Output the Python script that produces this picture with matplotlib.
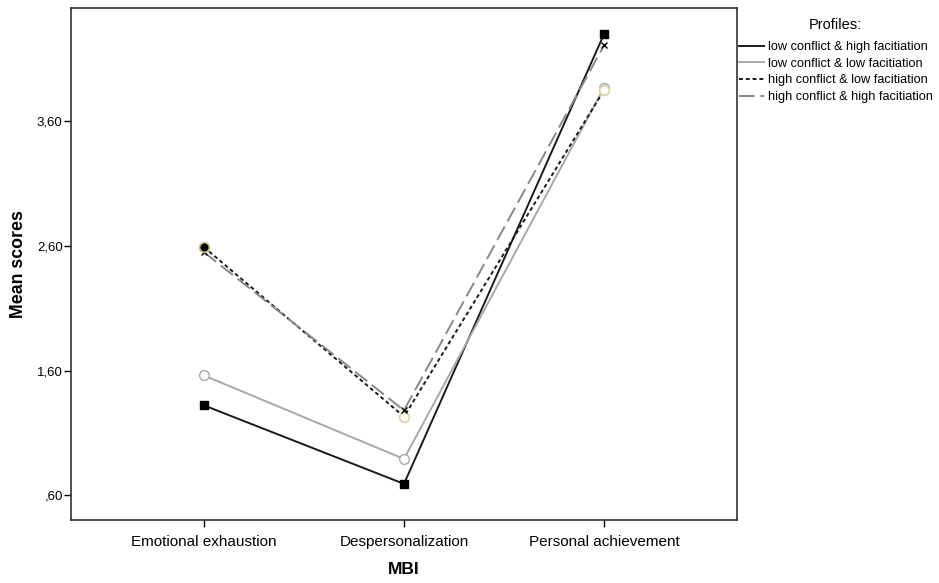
import matplotlib
matplotlib.use("Agg")
import matplotlib.pyplot as plt
from matplotlib.ticker import FuncFormatter

plt.rcParams['font.family'] = ['Liberation Sans', 'DejaVu Sans']

categories = ["Emotional exhaustion", "Despersonalization", "Personal achievement"]
series_names = ["low conflict & high facitiation", "low conflict & low facitiation",
                "high conflict & low facitiation", "high conflict & high facitiation"]
low_high = [1.32, 0.69, 4.30]
low_low = [1.56, 0.89, 3.87]
high_low = [2.59, 1.23, 3.85]
high_high = [2.55, 1.28, 4.21]
y_ticks = [0.60, 1.60, 2.60, 3.60]

fig = plt.figure(figsize=(9.39, 5.83), dpi=100)
ax = fig.add_axes([71/939, 1-520/583, (737-71)/939, (520-8)/583])

x = list(range(len(categories)))
l1, = ax.plot(x, low_high, color='#1a1a1a', lw=1.4, marker='s', ms=5.5,
              mfc='black', mec='black', label=series_names[0])
l2, = ax.plot(x, low_low, color='#a8a8a8', lw=1.4, marker='o', ms=7,
              mfc='white', mec='#a8a8a8', label=series_names[1])
l3, = ax.plot(x, high_low, color='#1a1a1a', lw=1.4, ls=(0, (2, 1.5)), marker='o', ms=7,
              mfc='white', mec='#d8d4a8', mew=1.2, label=series_names[2])
l4, = ax.plot(x, high_high, color='#888888', lw=1.4, ls=(0, (8, 3)), marker='x', ms=4,
              mec='black', mew=1.0, label=series_names[3])
# filled marker at first point of high conflict & low facilitation
ax.plot(x[0], high_low[0], marker='o', ms=7, mfc='black', mec='#c8c08a', mew=1.2, ls='none')

ax.set_xlim(-0.665, 2.665)
ax.set_ylim(0.40, 4.51)
ax.set_xticks(x)
ax.set_xticklabels(categories, fontsize=11)
ax.set_yticks(y_ticks)
ax.yaxis.set_major_formatter(FuncFormatter(
    lambda v, p: (f"{v:.2f}".replace('.', ',')).lstrip('0') if v < 1 else f"{v:.2f}".replace('.', ',')))
ax.tick_params(axis='y', labelsize=9.5, length=5, width=1, direction='out', pad=1)
ax.tick_params(axis='x', length=5, width=1, direction='out', pad=6)
for s in ax.spines.values():
    s.set_linewidth(1.2)
    s.set_color('#333333')

ax.set_xlabel("MBI", fontsize=12.5, fontweight='bold', labelpad=9)
ax.set_ylabel("Mean scores", fontsize=12.8, fontweight='bold', labelpad=7)

leg = fig.legend(handles=[l1, l2, l3, l4], loc='upper left',
                 bbox_to_anchor=(736/939, 1-15/583), frameon=False,
                 title="Profiles:", fontsize=9.2, title_fontsize=10.5,
                 handlelength=2.0, handletextpad=0.3, labelspacing=0.36,
                 borderaxespad=0, borderpad=0.2)
leg._legend_box.sep = 7
for h in leg.legend_handles:
    h.set_marker('')

fig.savefig("out.png", dpi=100)
